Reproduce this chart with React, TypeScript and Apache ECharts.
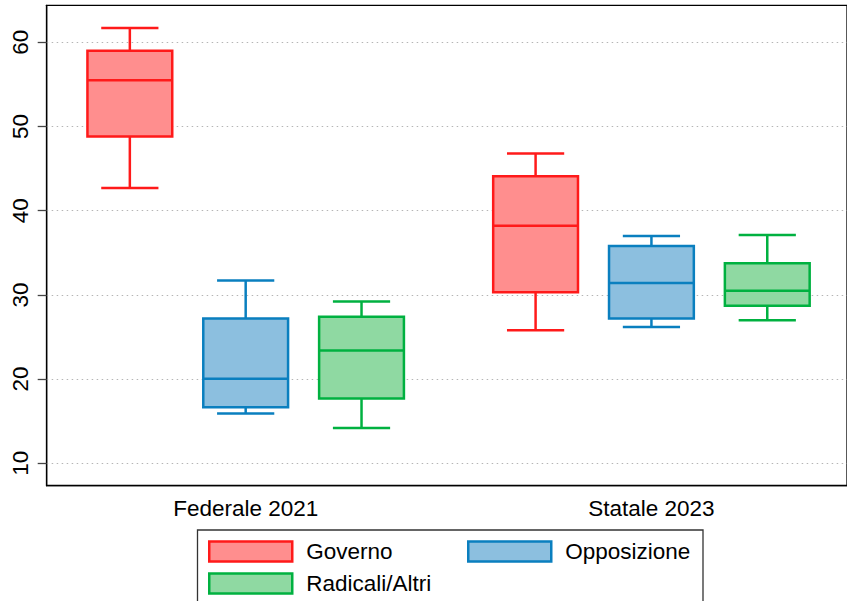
import React, { useEffect, useRef } from 'react';
import * as echarts from 'echarts';

const categories = ['Federale 2021', 'Statale 2023'];
const seriesNames = ['Governo', 'Opposizione', 'Radicali/Altri'];
// each entry: [min, q1, median, q3, max], one per category
const governo = [
  [42.7, 48.8, 55.5, 59.0, 61.7],
  [25.8, 30.3, 38.2, 44.1, 46.8],
];
const opposizione = [
  [15.9, 16.65, 20.05, 27.2, 31.7],
  [26.2, 27.2, 31.4, 35.8, 37.0],
];
const radicali = [
  [14.2, 17.7, 23.4, 27.4, 29.2],
  [27.0, 28.7, 30.5, 33.75, 37.1],
];
const yTicks = [10, 20, 30, 40, 50, 60];

const strokes = ['#ff1a1a', '#0a7fbf', '#00b140'];
const fills = ['#ff8e8e', '#8cbfdf', '#8fd9a2'];

const FONT = '"Liberation Sans", Arial, Helvetica, sans-serif';
const BOX_W = 0.209;
const CAP_W = 0.141;
const OFFSETS = [-0.2855, 0, 0.2855];
const LW = 2.5;

function makeRender(offset: number, stroke: string, fill: string) {
  return (params: any, api: any) => {
    const x = api.value(0) + offset;
    const mn = api.value(1);
    const q1 = api.value(2);
    const md = api.value(3);
    const q3 = api.value(4);
    const mx = api.value(5);
    const c = (v: number) => api.coord([x, v]);
    const bw = api.size([BOX_W, 0])[0];
    const cw = api.size([CAP_W, 0])[0];
    const pMin = c(mn), pQ1 = c(q1), pMd = c(md), pQ3 = c(q3), pMax = c(mx);
    const cx = pMd[0];
    const ls = { stroke, lineWidth: LW, fill: 'none' };
    return {
      type: 'group',
      children: [
        { type: 'line', shape: { x1: cx, y1: pQ3[1], x2: cx, y2: pMax[1] }, style: ls },
        { type: 'line', shape: { x1: cx, y1: pQ1[1], x2: cx, y2: pMin[1] }, style: ls },
        { type: 'line', shape: { x1: cx - cw / 2, y1: pMax[1], x2: cx + cw / 2, y2: pMax[1] }, style: ls },
        { type: 'line', shape: { x1: cx - cw / 2, y1: pMin[1], x2: cx + cw / 2, y2: pMin[1] }, style: ls },
        {
          type: 'rect',
          shape: { x: cx - bw / 2, y: pQ3[1], width: bw, height: pQ1[1] - pQ3[1] },
          style: { fill, stroke, lineWidth: LW },
        },
        { type: 'line', shape: { x1: cx - bw / 2, y1: pMd[1], x2: cx + bw / 2, y2: pMd[1] }, style: ls },
      ],
    };
  };
}

export default function App() {
  const ref = useRef<HTMLDivElement>(null);
  useEffect(() => {
    document.body.style.margin = '0';
    if (!ref.current) return;
    const chart = echarts.init(ref.current, undefined, { renderer: 'svg' });
    const allData = [governo, opposizione, radicali];
    const legendPos = [
      { left: 208, top: 540 },
      { left: 467, top: 540 },
      { left: 208, top: 572 },
    ];
    const option: any = {
      animation: false,
      backgroundColor: '#fff',
      grid: {
        show: true,
        borderColor: '#000',
        borderWidth: 1.3,
        left: 46.7,
        top: 5.3,
        right: -3,
        bottom: 115.3,
      },
      xAxis: {
        type: 'value',
        min: 0.5096,
        max: 2.482,
        axisLine: { show: true, lineStyle: { color: '#000', width: 1.3 } },
        axisTick: { show: false },
        splitLine: { show: false },
        axisLabel: {
          customValues: [1, 2],
          formatter: (v: number) => categories[Math.round(v) - 1] ?? '',
          fontSize: 22.5,
          fontFamily: FONT,
          color: '#000',
          margin: 11,
        },
      },
      yAxis: {
        type: 'value',
        min: 7.34,
        max: 64.39,
        axisLine: { show: true, lineStyle: { color: '#000', width: 1.3 } },
        axisTick: { show: true, customValues: yTicks, length: 9, lineStyle: { color: '#444', width: 1.3 } },
        axisLabel: {
          customValues: yTicks,
          rotate: 90,
          fontSize: 22.5,
          fontFamily: FONT,
          color: '#000',
          margin: 15,
        },
        splitLine: {
          show: true,
          lineStyle: { color: '#b5b5b5', width: 1, type: [1.5, 3.5] },
        },
      },
      legend: seriesNames.map((name, i) => ({
        data: [
          {
            name,
            icon: 'rect',
            itemStyle: { color: fills[i], borderColor: strokes[i], borderWidth: LW },
          },
        ],
        left: legendPos[i].left,
        top: legendPos[i].top,
        padding: 0,
        itemWidth: 83,
        itemHeight: 20,
        selectedMode: false,
        textStyle: { fontSize: 22.5, fontFamily: FONT, color: '#000', padding: [0, 0, 0, 9] },
      })),
      graphic: [
        {
          type: 'rect',
          shape: { x: 197.5, y: 530, width: 505.5, height: 100 },
          style: { fill: 'none', stroke: '#333', lineWidth: 1.3 },
          z: 0,
        },
      ],
      series: seriesNames.map((name, i) => ({
        type: 'custom',
        name,
        renderItem: makeRender(OFFSETS[i], strokes[i], fills[i]),
        itemStyle: { color: fills[i], borderColor: strokes[i], borderWidth: LW },
        encode: { x: 0, y: [1, 2, 3, 4, 5] },
        data: allData[i].map((d, k) => [k + 1, ...d]),
      })),
    };
    chart.setOption(option);
    return () => chart.dispose();
  }, []);
  return <div ref={ref} style={{ width: 847, height: 601 }} />;
}
